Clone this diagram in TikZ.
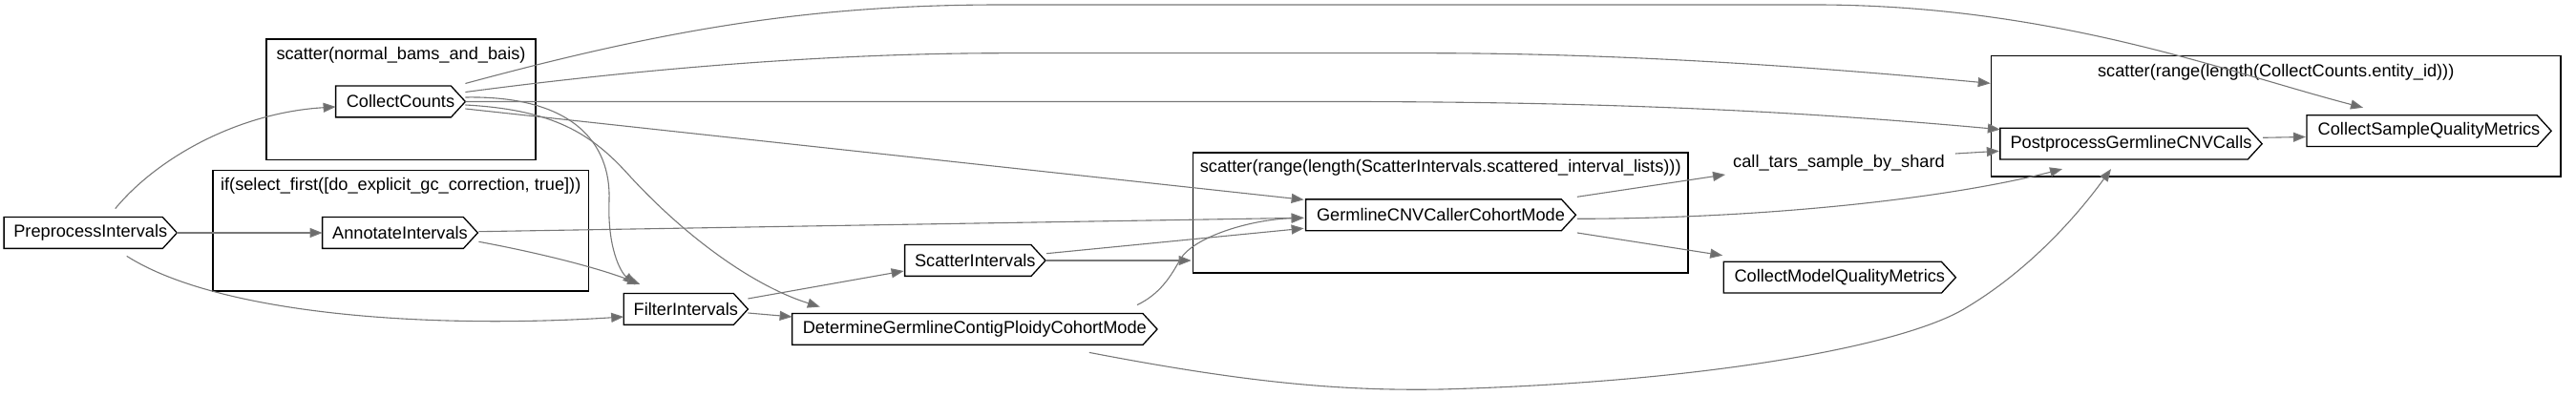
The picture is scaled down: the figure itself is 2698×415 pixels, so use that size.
\documentclass[tikz,border=0pt]{standalone}
\usepackage{fontspec}
\setmainfont{Liberation Sans}
\usetikzlibrary{arrows.meta,calc}
\definecolor{edgegray}{RGB}{120,120,120}
\definecolor{tipgray}{RGB}{108,108,108}
\newcommand\gvfont{\fontsize{9.1pt}{10.9pt}\selectfont}
\begin{document}
\begin{tikzpicture}[x=0.5pt,y=-0.5pt,
  wnode/.style={inner sep=0pt, minimum height=16pt, font=\gvfont},
  lbl/.style={inner sep=0pt, font=\gvfont},
  clusterbox/.style={draw=black, line width=0.8pt, inner sep=0pt},
  nodeline/.style={draw=black, line width=0.65pt, line join=miter},
  flow/.style={draw=edgegray, line width=0.55pt, -{Triangle[length=6.5pt,width=5pt,fill=tipgray]}}]
\useasboundingbox (0,0) rectangle (2698,415);

% clusters
\node[clusterbox, minimum width=141pt, minimum height=63.2pt] (c1) at (420,104.5) {};
\node[clusterbox, minimum width=196.75pt, minimum height=63.15pt] (c2) at (419.75,241.85) {};
\node[clusterbox, minimum width=259.25pt, minimum height=63pt] (c3) at (1508.75,223) {};
\node[clusterbox, minimum width=298.25pt, minimum height=63.15pt] (c4) at (2383.75,121.85) {};
\node[lbl] (c1l) at ($(c1.north)+(0,17)$) {scatter(normal\_bams\_and\_bais)};
\node[lbl] (c2l) at ($(c2.north)+(0,17)$) {if(select\_first([do\_explicit\_gc\_correction, true]))};
\node[lbl] (c3l) at ($(c3.north)+(0,17)$) {scatter(range(length(ScatterIntervals.scattered\_interval\_lists)))};
\node[lbl] (c4l) at ($(c4.north)+(0,17.5)$) {scatter(range(length(CollectCounts.entity\_id)))};

% nodes
\node[wnode, minimum width=90.25pt] (pre) at (94.75,244) {PreprocessIntervals};
\node[wnode, minimum width=67.5pt] (cc) at (419.5,106.5) {CollectCounts};
\node[wnode, minimum width=81pt] (ann) at (419,244) {AnnotateIntervals};
\node[wnode, minimum width=64.7pt] (filt) at (718.3,324) {FilterIntervals};
\node[wnode, minimum width=73.3pt] (scat) at (1021.3,273) {ScatterIntervals};
\node[wnode, minimum width=190.8pt] (det) at (1020.8,345) {DetermineGermlineContigPloidyCohortMode};
\node[wnode, minimum width=141pt] (gcnv) at (1509,225.3) {GermlineCNVCallerCohortMode};
\node[lbl] (tars) at (1926,171) {call\_tars\_sample\_by\_shard};
\node[wnode, minimum width=121.2pt] (cmqm) at (1926.8,290.7) {CollectModelQualityMetrics};
\node[wnode, minimum width=136.75pt] (post) at (2232,150.7) {PostprocessGermlineCNVCalls};
\node[wnode, minimum width=127.7pt] (csqm) at (2544,137.2) {CollectSampleQualityMetrics};

\foreach \n in {pre,cc,ann,filt,scat,det,gcnv,cmqm,post,csqm}
  \draw[nodeline] (\n.north west) -- ($(\n.north east)+(-15,0)$) -- (\n.east)
    -- ($(\n.south east)+(-15,0)$) -- (\n.south west) -- cycle;

% edges
\draw[flow] ($(pre.north)+(26,-9)$) .. controls (165,165) and (250,118) .. ($(cc.west)+(0,5.5)$);
\draw[flow] (pre.east) -- (ann.west);
\draw[flow] ($(pre.south)+(38,8)$) .. controls (230,330) and (450,345) .. ($(filt.west)+(0,8)$);
\draw[flow] ($(cc.east)+(0,-19)$) .. controls (700,30) and (850,5) .. (1050,5) -- (1900,5)
   .. controls (2150,5) and (2330,75) .. ($(csqm.north)+(-69,-8)$);
\draw[flow] ($(cc.east)+(0,-10)$) .. controls (650,75) and (850,56) .. (1050,55.7) -- (1500,55.7)
   .. controls (1700,56) and (1900,70) .. ($(c4.west)+(0,-34.5)$);
\draw[flow] ($(cc.east)+(0,-4.5)$) .. controls (600,100) and (640,150) .. (638,210)
   .. controls (636,260) and (650,285) .. ($(filt.north)+(-53,-9)$);
\draw[flow] (cc.east) -- (1400,106.5) .. controls (1700,106.5) and (1900,118) .. ($(post.west)+(0,-15)$);
\draw[flow] ($(cc.east)+(0,3.5)$) .. controls (580,115) and (620,140) .. (660,185)
   .. controls (720,250) and (790,300) .. ($(det.north)+(-162,-7)$);
\draw[flow] ($(cc.east)+(0,7.5)$) -- ($(gcnv.west)+(-2,-16)$);
\draw[flow] ($(ann.east)+(1,-1.3)$) -- ($(gcnv.west)+(-2,3)$);
\draw[flow] ($(ann.east)+(1,9.3)$) .. controls (570,266) and (630,282) .. ($(filt.north)+(-48,-9.7)$);
\draw[flow] ($(filt.east)+(0,-11)$) -- ($(scat.west)+(-1,11)$);
\draw[flow] ($(filt.east)+(0,4)$) -- ($(det.west)+(0,-13)$);
\draw[flow] ($(scat.east)+(1,-7.3)$) -- ($(gcnv.west)+(-2,14)$);
\draw[flow] (scat.east) -- ($(c3.west)+(-1,50)$);
\draw[flow] ($(det.north east)+(-21,-9)$) .. controls (1215,308) and (1226,290) .. (1236,272)
   .. controls (1250,248) and (1310,230) .. ($(gcnv.west)+(-2,3)$);
\draw[flow] ($(det.south)+(120,8)$) .. controls (1300,400) and (1400,410) .. (1510,408)
   .. controls (1800,400) and (2000,360) .. (2060,322)
   .. controls (2130,280) and (2180,220) .. ($(post.south)+(-21,10)$);
\draw[flow] ($(gcnv.east)+(1.5,-19)$) -- ($(tars.center)+(-119,12)$);
\draw[flow] ($(gcnv.east)+(1.5,4)$) .. controls (1850,229) and (2040,208) .. ($(post.south)+(-72,10)$);
\draw[flow] ($(gcnv.east)+(1.5,18.7)$) -- ($(cmqm.west)+(-1,-23)$);
\draw[flow] ($(tars.center)+(122,-10)$) -- ($(post.west)+(-1,7.6)$);
\draw[flow] ($(post.east)+(1,-6.4)$) -- ($(csqm.west)+(-1,6.3)$);
\end{tikzpicture}
\end{document}
